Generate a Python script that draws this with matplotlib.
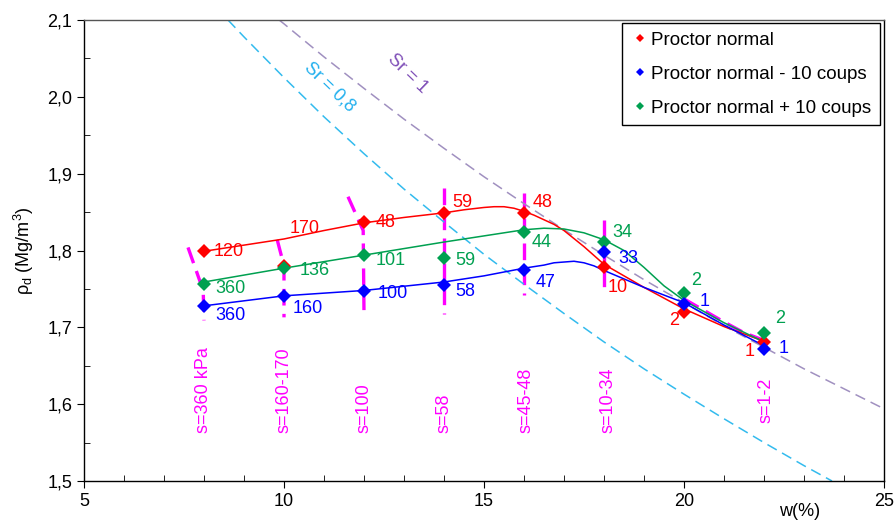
import matplotlib
matplotlib.use("Agg")
import matplotlib.pyplot as plt
from matplotlib.ticker import MultipleLocator, FuncFormatter

plt.rcParams['font.family'] = ['Liberation Sans', 'DejaVu Sans']
plt.rcParams['mathtext.fontset'] = 'custom'
plt.rcParams['mathtext.rm'] = 'Liberation Sans'

# points mesurés
w_pts = [8, 10, 12, 14, 16, 18, 20, 22]
rho_normal = [1.799, 1.780, 1.837, 1.849, 1.849, 1.778, 1.720, 1.681]
rho_moins10 = [1.728, 1.741, 1.747, 1.755, 1.774, 1.798, 1.731, 1.672]
rho_plus10 = [1.756, 1.777, 1.794, 1.790, 1.824, 1.811, 1.745, 1.692]

# succion (kPa) pour chaque point
s_normal = ["120", "170", "48", "59", "48", "10", "2", "1"]
s_moins10 = ["360", "160", "100", "58", "47", "33", "1", "1"]
s_plus10 = ["360", "136", "101", "59", "44", "34", "2", "2"]

# courbes de tendance
w_trend_normal = [8, 9, 10, 11, 12, 13, 14, 14.5, 15, 15.25, 15.5, 15.75, 16, 16.25, 16.5, 16.75,
                  17, 17.5, 18, 19, 20, 21, 22]
rho_trend_normal = [1.799, 1.807, 1.815, 1.826, 1.836, 1.843, 1.849, 1.853, 1.856, 1.857, 1.857, 1.855,
                    1.851, 1.846, 1.840, 1.834, 1.826, 1.805, 1.782, 1.752, 1.724, 1.701, 1.682]
w_trend_moins10 = [8, 10, 12, 14, 15, 16, 16.5, 16.75, 17, 17.25, 17.5, 17.75, 18, 18.5, 19, 20, 21, 22]
rho_trend_moins10 = [1.728, 1.741, 1.748, 1.759, 1.767, 1.777, 1.781, 1.784, 1.785, 1.786, 1.784, 1.780,
                     1.774, 1.763, 1.752, 1.732, 1.703, 1.676]
w_trend_plus10 = [8, 10, 12, 14, 16, 16.5, 17, 17.5, 18, 18.5, 19, 19.5, 20, 21, 22]
rho_trend_plus10 = [1.759, 1.777, 1.794, 1.811, 1.827, 1.829, 1.828, 1.823, 1.814, 1.800,
                    1.778, 1.754, 1.735, 1.706, 1.681]

# courbes de saturation
w_sr1 = [9.88, 10, 11, 12, 13, 14, 15, 16, 17, 18, 19, 20, 21, 22, 23, 24, 25]
rho_sr1 = [2.100, 2.095, 2.052, 2.011, 1.971, 1.933, 1.896, 1.861, 1.827, 1.794, 1.762, 1.732,
           1.702, 1.674, 1.646, 1.620, 1.594]
w_sr08 = [8.6, 9, 10, 11, 12, 13, 14, 15, 16, 17, 18, 19, 20, 21, 22, 23, 23.7]
rho_sr08 = [2.100, 2.078, 2.025, 1.974, 1.926, 1.880, 1.837, 1.795, 1.756, 1.718, 1.681, 1.646,
            1.613, 1.581, 1.550, 1.520, 1.500]

# iso-succion (traits magenta)
iso_w = [[7.6, 7.98, 8.0], [9.83, 10.0, 10.0], [11.6, 11.98, 12.0], [14.0, 14.0],
         [16.0, 16.0], [18.0, 18.0], [20.0, 20.5, 21.0, 21.5, 22.0]]
iso_rho = [[1.804, 1.748, 1.709], [1.814, 1.780, 1.713], [1.870, 1.826, 1.718], [1.881, 1.718],
           [1.875, 1.742], [1.840, 1.746], [1.737, 1.722, 1.707, 1.693, 1.683]]
iso_txt = ["s=360 kPa", "s=160-170", "s=100", "s=58", "s=45-48", "s=10-34", "s=1-2"]
iso_txt_w = [8.0, 10.0, 12.0, 14.0, 16.05, 18.1, 22.05]

rouge = '#ff0000'
bleu = '#0000ff'
vert = '#00a050'
magenta = '#ff00ff'

fig = plt.figure(figsize=(8.95, 5.30), dpi=100)
ax = fig.add_axes([84 / 895, 1 - 481 / 530, 800 / 895, 461 / 530])

for xs, ys in zip(iso_w, iso_rho):
    ax.plot(xs, ys, color=magenta, lw=2.4, dashes=(5, 2.5), zorder=1)
for t, x in zip(iso_txt, iso_txt_w):
    yb = 1.575 if t == "s=1-2" else 1.5625
    ax.text(x, yb, t, rotation=90, ha='center', va='bottom', color=magenta, fontsize=13)

ax.plot(w_sr1, rho_sr1, color='#a090c0', lw=1.1, dashes=(7, 4), zorder=2)
ax.plot(w_sr08, rho_sr08, color='#33bbee', lw=1.1, dashes=(7, 4), zorder=2)
ax.text(13.08, 2.030, "Sr = 1", rotation=-44, ha='center', va='center', color='#8050b8', fontsize=13)
ax.text(11.15, 2.013, "Sr = 0,8", rotation=-44, ha='center', va='center', color='#22b0ee', fontsize=13)

ax.plot(w_trend_normal, rho_trend_normal, color=rouge, lw=1.1, zorder=3)
ax.plot(w_trend_moins10, rho_trend_moins10, color=bleu, lw=1.1, zorder=3)
ax.plot(w_trend_plus10, rho_trend_plus10, color=vert, lw=1.1, zorder=3)

ax.plot(w_pts, rho_normal, 'D', color=rouge, ms=7.5, mew=0, zorder=4, label="Proctor normal")
ax.plot(w_pts, rho_plus10, 'D', color=vert, ms=7.5, mew=0, zorder=5, label="Proctor normal + 10 coups")
ax.plot(w_pts, rho_moins10, 'D', color=bleu, ms=7.5, mew=0, zorder=6, label="Proctor normal - 10 coups")

# étiquettes de succion
pos_normal = [(8.23, 1.799), (10.15, 1.829), (12.3, 1.836), (14.22, 1.862), (16.22, 1.863),
              (18.1, 1.752), (19.75, 1.709), (21.65, 1.668)]
pos_moins10 = [(8.28, 1.716), (10.22, 1.725), (12.33, 1.7445), (14.28, 1.747), (16.28, 1.758),
               (18.35, 1.790), (20.52, 1.733), (22.48, 1.673)]
pos_plus10 = [(8.28, 1.751), (10.4, 1.7745), (12.28, 1.7875), (14.28, 1.7875), (16.2, 1.811),
              (18.22, 1.823), (20.3, 1.7615), (22.4, 1.712)]
for labels, pos, c in [(s_normal, pos_normal, rouge), (s_moins10, pos_moins10, bleu),
                       (s_plus10, pos_plus10, vert)]:
    for i, (t, (x, y)) in enumerate(zip(labels, pos)):
        ha = 'center' if i >= 6 else 'left'
        ax.text(x, y, t, ha=ha, va='center', color=c, fontsize=13, zorder=7)

ax.set_xlim(5, 25)
ax.set_ylim(1.5, 2.1)
ax.xaxis.set_major_locator(MultipleLocator(5))
ax.xaxis.set_minor_locator(MultipleLocator(1))
ax.yaxis.set_major_locator(MultipleLocator(0.1))
ax.yaxis.set_minor_locator(MultipleLocator(0.05))
ax.yaxis.set_major_formatter(FuncFormatter(lambda v, p: f"{v:.1f}".replace('.', ',')))
ax.tick_params(which='major', direction='out', length=5, labelsize=13)
ax.tick_params(which='minor', direction='in', length=4)
for sp in ax.spines.values():
    sp.set_linewidth(1.0)
ax.spines['top'].set_color('#555555')

ax.set_ylabel("ρ$_{\\mathrm{d}}$ (Mg/m$^{3}$)", fontsize=13, labelpad=8)
ax.text(0.895, -0.067, "w(%)", transform=ax.transAxes, ha='center', va='center', fontsize=13)

h, l = ax.get_legend_handles_labels()
leg = ax.legend([h[0], h[2], h[1]], [l[0], l[2], l[1]], loc='upper right',
                bbox_to_anchor=(0.995, 0.993), borderaxespad=0, fontsize=13.5,
                fancybox=False, edgecolor='black', framealpha=1, markerscale=0.6,
                handletextpad=0.1, handlelength=1.0, labelspacing=0.9, borderpad=0.45)
leg.get_frame().set_linewidth(1.0)

fig.savefig("out.png", dpi=100)
